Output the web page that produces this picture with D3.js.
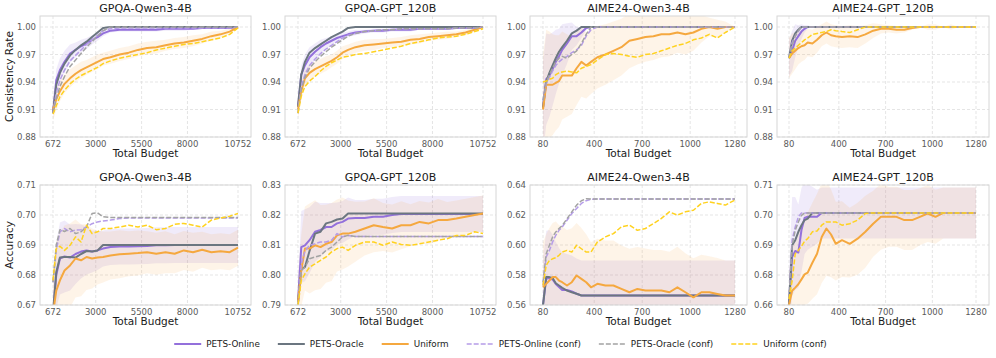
<!DOCTYPE html>
<html>
<head>
<meta charset="utf-8">
<script src="https://cdn.jsdelivr.net/npm/d3@7"></script>
<style>
  body { margin: 0; background: #fff; }
  text { font-family: "DejaVu Sans", sans-serif; }
</style>
</head>
<body>
<div id="chart"></div>
<script>
// ---- x grids and ticks ----
const gpqaBudget = [672, 850, 1050, 1300, 1600, 1900, 2200, 2500, 2800, 3100, 3400, 3800, 4300, 4800, 5300, 5800, 6300, 6800, 7300, 7800, 8300, 8800, 9300, 9800, 10300, 10752]
const aimeBudget = [80, 100, 120, 140, 160, 180, 200, 230, 260, 290, 320, 350, 380, 420, 470, 520, 570, 620, 670, 720, 770, 820, 870, 920, 970, 1020, 1070, 1120, 1170, 1220, 1280]
const gpqaTicks = [672, 3000, 5500, 8000, 10752]
const aimeTicks = [80, 400, 700, 1000, 1280]
const consTicks = [0.88, 0.91, 0.94, 0.97, 1.00]
const acc1Ticks = [0.67, 0.68, 0.69, 0.70, 0.71]
const acc2Ticks = [0.79, 0.80, 0.81, 0.82, 0.83]
const acc3Ticks = [0.56, 0.58, 0.60, 0.62, 0.64]
const acc4Ticks = [0.66, 0.68, 0.69, 0.70, 0.71]
const titles = ["GPQA-Qwen3-4B", "GPQA-GPT_120B", "AIME24-Qwen3-4B", "AIME24-GPT_120B"]
const seriesNames = ["PETS-Online", "PETS-Oracle", "Uniform", "PETS-Online (conf)", "PETS-Oracle (conf)", "Uniform (conf)"]

// ---- consistency rate, GPQA-Qwen3-4B ----
const c1Online = [0.906, 0.942, 0.953, 0.962, 0.971, 0.975, 0.979, 0.982, 0.986, 0.989, 0.993, 0.996, 0.997, 0.997, 0.997, 0.997, 0.997, 0.998, 0.998, 0.998, 0.998, 0.999, 0.999, 0.999, 0.999, 1.0]
const c1Oracle = [0.906, 0.937, 0.950, 0.960, 0.969, 0.975, 0.980, 0.984, 0.989, 0.994, 0.999, 1, 1, 1, 1, 1, 1, 1, 1, 1, 1, 1, 1, 1, 1, 1]
const c1Uniform = [0.910, 0.921, 0.930, 0.938, 0.944, 0.949, 0.953, 0.956, 0.959, 0.962, 0.965, 0.967, 0.970, 0.972, 0.975, 0.977, 0.978, 0.980, 0.982, 0.983, 0.985, 0.987, 0.990, 0.992, 0.995, 1.0]
const c1OnlineConf = [0.906, 0.928, 0.942, 0.953, 0.963, 0.969, 0.975, 0.981, 0.986, 0.991, 0.996, 0.998, 0.999, 0.999, 0.999, 0.999, 0.999, 0.999, 0.999, 0.999, 0.999, 0.999, 0.999, 0.999, 0.999, 1.0]
const c1OracleConf = [0.906, 0.922, 0.935, 0.946, 0.957, 0.964, 0.971, 0.978, 0.984, 0.990, 0.996, 1, 1, 1, 1, 1, 1, 1, 1, 1, 1, 1, 1, 1, 1, 1]
const c1UniformConf = [0.905, 0.914, 0.924, 0.931, 0.938, 0.943, 0.947, 0.950, 0.953, 0.956, 0.960, 0.963, 0.966, 0.968, 0.970, 0.972, 0.975, 0.977, 0.979, 0.981, 0.982, 0.984, 0.986, 0.988, 0.992, 0.999]
const c1OnlineSd = [0.004, 0.012, 0.013, 0.012, 0.010, 0.008, 0.007, 0.006, 0.005, 0.004, 0.003, 0.002, 0.002, 0.002, 0.002, 0.002, 0.002, 0.002, 0.002, 0.002, 0.001, 0.001, 0.001, 0.001, 0.001, 0]
const c1UniformSd = [0.012, 0.012, 0.011, 0.010, 0.010, 0.009, 0.009, 0.008, 0.008, 0.008, 0.007, 0.007, 0.007, 0.007, 0.007, 0.007, 0.007, 0.006, 0.006, 0.006, 0.006, 0.005, 0.005, 0.004, 0.003, 0.001]

// ---- consistency rate, GPQA-GPT_120B ----
const c2Online = [0.913, 0.948, 0.958, 0.967, 0.973, 0.978, 0.982, 0.985, 0.988, 0.990, 0.992, 0.994, 0.995, 0.996, 0.996, 0.997, 0.997, 0.997, 0.998, 0.998, 0.998, 0.998, 0.999, 0.999, 0.999, 1.0]
const c2Oracle = [0.913, 0.948, 0.962, 0.972, 0.977, 0.981, 0.985, 0.989, 0.992, 0.995, 0.999, 1, 1, 1, 1, 1, 1, 1, 1, 1, 1, 1, 1, 1, 1, 1]
const c2Uniform = [0.910, 0.930, 0.944, 0.950, 0.954, 0.957, 0.960, 0.963, 0.967, 0.972, 0.975, 0.978, 0.980, 0.981, 0.982, 0.983, 0.984, 0.986, 0.987, 0.989, 0.990, 0.991, 0.992, 0.994, 0.997, 1.0]
const c2OnlineConf = [0.906, 0.935, 0.948, 0.958, 0.965, 0.971, 0.976, 0.980, 0.984, 0.988, 0.991, 0.993, 0.995, 0.996, 0.997, 0.997, 0.998, 0.998, 0.998, 0.998, 0.998, 0.998, 0.999, 0.999, 0.999, 1.0]
const c2OracleConf = [0.906, 0.932, 0.945, 0.955, 0.962, 0.968, 0.973, 0.978, 0.982, 0.986, 0.990, 0.993, 0.995, 0.996, 0.997, 0.997, 0.998, 0.998, 0.998, 0.998, 0.998, 0.998, 0.999, 0.999, 0.999, 1.0]
const c2UniformConf = [0.906, 0.925, 0.935, 0.941, 0.946, 0.952, 0.957, 0.961, 0.964, 0.967, 0.968, 0.970, 0.971, 0.973, 0.975, 0.977, 0.979, 0.982, 0.984, 0.986, 0.988, 0.989, 0.990, 0.992, 0.995, 0.998]
const c2OnlineSd = [0.004, 0.010, 0.012, 0.011, 0.009, 0.008, 0.006, 0.005, 0.004, 0.004, 0.003, 0.003, 0.002, 0.002, 0.002, 0.002, 0.002, 0.002, 0.001, 0.001, 0.001, 0.001, 0.001, 0.001, 0.001, 0]
const c2UniformSd = [0.010, 0.010, 0.009, 0.009, 0.008, 0.008, 0.008, 0.007, 0.007, 0.007, 0.006, 0.006, 0.006, 0.006, 0.005, 0.005, 0.005, 0.005, 0.005, 0.004, 0.004, 0.004, 0.003, 0.003, 0.002, 0.001]

// ---- consistency rate, AIME24-Qwen3-4B ----
const c3Online = [0.912, 0.943, 0.947, 0.954, 0.962, 0.968, 0.975, 0.982, 0.990, 0.990, 0.994, 0.999, 1, 1, 1, 1, 1, 1, 1, 1, 1, 1, 1, 1, 1, 1, 1, 1, 1, 1, 1]
const c3Oracle = [0.912, 0.940, 0.950, 0.958, 0.966, 0.973, 0.978, 0.985, 0.993, 0.996, 1, 1, 1, 1, 1, 1, 1, 1, 1, 1, 1, 1, 1, 1, 1, 1, 1, 1, 1, 1, 1]
const c3Uniform = [0.910, 0.937, 0.937, 0.937, 0.939, 0.941, 0.947, 0.947, 0.947, 0.955, 0.962, 0.958, 0.962, 0.967, 0.970, 0.974, 0.978, 0.985, 0.987, 0.989, 0.990, 0.992, 0.992, 0.994, 0.992, 0.994, 0.998, 1.0, 0.998, 1.0, 1.0]
const c3OnlineConf = [0.920, 0.938, 0.945, 0.952, 0.958, 0.962, 0.965, 0.968, 0.972, 0.975, 0.980, 0.990, 0.997, 1, 1, 1, 1, 1, 1, 1, 1, 1, 1, 1, 1, 1, 1, 1, 1, 1, 1]
const c3OracleConf = [0.920, 0.940, 0.948, 0.955, 0.962, 0.966, 0.968, 0.966, 0.970, 0.974, 0.982, 0.992, 1, 1, 1, 1, 1, 1, 1, 1, 1, 1, 1, 1, 1, 1, 1, 1, 1, 1, 1]
const c3UniformConf = [0.940, 0.941, 0.943, 0.944, 0.948, 0.950, 0.951, 0.952, 0.951, 0.950, 0.955, 0.957, 0.959, 0.964, 0.970, 0.971, 0.970, 0.968, 0.967, 0.970, 0.971, 0.974, 0.977, 0.980, 0.982, 0.986, 0.988, 0.992, 0.988, 0.994, 1.0]
const c3OnlineSd = [0.050, 0.050, 0.045, 0.040, 0.035, 0.030, 0.028, 0.022, 0.015, 0.010, 0.006, 0.002, 0, 0, 0, 0, 0, 0, 0, 0, 0, 0, 0, 0, 0, 0, 0, 0, 0, 0, 0]
const c3UniformSd = [0.060, 0.060, 0.058, 0.055, 0.052, 0.050, 0.048, 0.045, 0.042, 0.040, 0.038, 0.036, 0.035, 0.034, 0.033, 0.032, 0.031, 0.030, 0.028, 0.027, 0.026, 0.025, 0.024, 0.022, 0.022, 0.020, 0.015, 0.010, 0.010, 0.006, 0]

// ---- consistency rate, AIME24-GPT_120B ----
const c4Online = [0.966, 0.974, 0.985, 0.990, 0.995, 0.998, 1, 1, 1, 1, 1, 1, 1, 1, 1, 1, 1, 1, 1, 1, 1, 1, 1, 1, 1, 1, 1, 1, 1, 1, 1]
const c4Oracle = [0.966, 0.985, 0.993, 0.997, 1, 1, 1, 1, 1, 1, 1, 1, 1, 1, 1, 1, 1, 1, 1, 1, 1, 1, 1, 1, 1, 1, 1, 1, 1, 1, 1]
const c4Uniform = [0.966, 0.971, 0.974, 0.977, 0.979, 0.980, 0.983, 0.982, 0.986, 0.991, 0.994, 0.991, 0.990, 0.989, 0.990, 0.989, 0.992, 0.996, 0.998, 0.998, 0.997, 0.997, 0.999, 1, 1, 1, 1, 1, 1, 1, 1]
const c4OnlineConf = [0.966, 0.983, 0.990, 0.995, 1, 1, 1, 1, 1, 1, 1, 1, 1, 1, 1, 1, 1, 1, 1, 1, 1, 1, 1, 1, 1, 1, 1, 1, 1, 1, 1]
const c4OracleConf = [0.966, 0.980, 0.990, 0.996, 1, 1, 1, 1, 1, 1, 1, 1, 1, 1, 1, 1, 1, 1, 1, 1, 1, 1, 1, 1, 1, 1, 1, 1, 1, 1, 1]
const c4UniformConf = [0.966, 0.974, 0.977, 0.980, 0.983, 0.986, 0.988, 0.992, 0.993, 0.994, 0.995, 0.997, 0.996, 0.995, 0.994, 0.997, 1, 1, 1, 1, 1, 1, 1, 1, 1, 1, 1, 1, 1, 1, 1]
const c4OnlineSd = [0.020, 0.022, 0.018, 0.012, 0.008, 0.004, 0.002, 0, 0, 0, 0, 0, 0, 0, 0, 0, 0, 0, 0, 0, 0, 0, 0, 0, 0, 0, 0, 0, 0, 0, 0]
const c4UniformSd = [0.022, 0.022, 0.020, 0.018, 0.017, 0.016, 0.015, 0.015, 0.014, 0.012, 0.012, 0.012, 0.012, 0.012, 0.012, 0.012, 0.010, 0.008, 0.005, 0.004, 0.004, 0.003, 0.002, 0, 0.003, 0.003, 0, 0.003, 0, 0, 0]

// ---- accuracy, GPQA-Qwen3-4B ----
const a1Online = [0.667, 0.680, 0.6855, 0.6862, 0.6858, 0.687, 0.6878, 0.6882, 0.6878, 0.6882, 0.6888, 0.6893, 0.6895, 0.6895, 0.6896, 0.6897, 0.6899, 0.6899, 0.690, 0.690, 0.690, 0.690, 0.690, 0.690, 0.690, 0.690]
const a1Oracle = [0.667, 0.681, 0.6858, 0.686, 0.686, 0.6858, 0.687, 0.688, 0.6878, 0.6882, 0.690, 0.690, 0.690, 0.690, 0.690, 0.690, 0.690, 0.690, 0.690, 0.690, 0.690, 0.690, 0.690, 0.690, 0.690, 0.690]
const a1Uniform = [0.667, 0.6748, 0.6782, 0.6815, 0.6832, 0.6855, 0.6849, 0.686, 0.6855, 0.6858, 0.686, 0.6865, 0.6869, 0.6871, 0.6873, 0.6876, 0.6871, 0.6876, 0.6871, 0.6882, 0.6876, 0.6884, 0.6876, 0.6879, 0.6876, 0.6891]
const a1OnlineConf = [0.6776, 0.6882, 0.6944, 0.6955, 0.6944, 0.695, 0.6951, 0.696, 0.6971, 0.6977, 0.698, 0.6983, 0.6988, 0.699, 0.699, 0.699, 0.699, 0.699, 0.699, 0.699, 0.699, 0.699, 0.699, 0.699, 0.699, 0.699]
const a1OracleConf = [0.6776, 0.690, 0.6951, 0.6945, 0.6955, 0.6938, 0.6944, 0.696, 0.7005, 0.7007, 0.6994, 0.6992, 0.6992, 0.6992, 0.6992, 0.6992, 0.6992, 0.6992, 0.6992, 0.6992, 0.6992, 0.6992, 0.6992, 0.6992, 0.6992, 0.6992]
const a1UniformConf = [0.6782, 0.6888, 0.6896, 0.6882, 0.6899, 0.6927, 0.691, 0.6966, 0.6938, 0.6944, 0.6955, 0.6955, 0.696, 0.6966, 0.696, 0.6966, 0.6951, 0.6955, 0.6969, 0.6972, 0.6966, 0.696, 0.6983, 0.699, 0.6996, 0.7005]
const a1OnlineSd = [0.008, 0.011, 0.012, 0.012, 0.011, 0.010, 0.009, 0.008, 0.007, 0.0065, 0.006, 0.006, 0.006, 0.006, 0.006, 0.006, 0.006, 0.006, 0.006, 0.006, 0.006, 0.006, 0.006, 0.006, 0.006, 0.006]
const a1UniformSd = [0.014, 0.016, 0.016, 0.015, 0.014, 0.013, 0.012, 0.011, 0.010, 0.009, 0.0085, 0.008, 0.008, 0.0075, 0.0075, 0.007, 0.007, 0.007, 0.0065, 0.0065, 0.0065, 0.006, 0.006, 0.006, 0.006, 0.006]

// ---- accuracy, GPQA-GPT_120B ----
const a2Online = [0.791, 0.8093, 0.8099, 0.8116, 0.8144, 0.815, 0.816, 0.816, 0.8172, 0.8177, 0.8188, 0.819, 0.819, 0.8194, 0.8194, 0.820, 0.8203, 0.8203, 0.8203, 0.8203, 0.8203, 0.8203, 0.8203, 0.8203, 0.8203, 0.8203]
const a2Oracle = [0.791, 0.802, 0.8026, 0.808, 0.8138, 0.8144, 0.8172, 0.8177, 0.8185, 0.8188, 0.8205, 0.8205, 0.8205, 0.8205, 0.8205, 0.8205, 0.8205, 0.8205, 0.8205, 0.8205, 0.8205, 0.8205, 0.8205, 0.8205, 0.8205, 0.8205]
const a2Uniform = [0.791, 0.8015, 0.8088, 0.8088, 0.8099, 0.8093, 0.8104, 0.811, 0.8132, 0.8138, 0.8138, 0.8144, 0.8155, 0.8166, 0.816, 0.8155, 0.8166, 0.8166, 0.8177, 0.8172, 0.8183, 0.8183, 0.8188, 0.8194, 0.820, 0.8205]
const a2OnlineConf = [0.790, 0.8037, 0.808, 0.8099, 0.8104, 0.811, 0.811, 0.8116, 0.8138, 0.8127, 0.8132, 0.8128, 0.8128, 0.8128, 0.8128, 0.8128, 0.8128, 0.8128, 0.8128, 0.8128, 0.8128, 0.8128, 0.8128, 0.8128, 0.8128, 0.8128]
const a2OracleConf = [0.790, 0.8015, 0.8026, 0.8054, 0.806, 0.8065, 0.8082, 0.8093, 0.811, 0.8127, 0.8132, 0.8128, 0.8128, 0.8128, 0.8128, 0.8128, 0.8128, 0.8128, 0.8128, 0.8128, 0.8128, 0.8128, 0.8128, 0.8128, 0.8128, 0.8128]
const a2UniformConf = [0.790, 0.7982, 0.8004, 0.8026, 0.8037, 0.8049, 0.806, 0.8077, 0.8088, 0.8093, 0.8082, 0.8099, 0.811, 0.811, 0.8099, 0.811, 0.8102, 0.8099, 0.8104, 0.811, 0.8116, 0.8121, 0.8132, 0.8132, 0.8144, 0.8138]
const a2OnlineSd = [0.006, 0.012, 0.012, 0.011, 0.010, 0.009, 0.008, 0.008, 0.007, 0.007, 0.007, 0.006, 0.006, 0.006, 0.006, 0.006, 0.006, 0.006, 0.006, 0.006, 0.006, 0.006, 0.006, 0.006, 0.006, 0.006]
const a2UniformSd = [0.008, 0.012, 0.014, 0.015, 0.015, 0.014, 0.013, 0.013, 0.012, 0.012, 0.011, 0.010, 0.009, 0.009, 0.008, 0.008, 0.008, 0.007, 0.007, 0.007, 0.007, 0.006, 0.006, 0.006, 0.006, 0.006]

// ---- accuracy, AIME24-Qwen3-4B ----
const a3Online = [0.560, 0.5775, 0.578, 0.577, 0.574, 0.572, 0.570, 0.570, 0.569, 0.5675, 0.5663, 0.5663, 0.5663, 0.5663, 0.5663, 0.5663, 0.5663, 0.5663, 0.5663, 0.5663, 0.5663, 0.5663, 0.5663, 0.5663, 0.5663, 0.5663, 0.5663, 0.5663, 0.5663, 0.5663, 0.5663]
const a3Oracle = [0.560, 0.5786, 0.5786, 0.578, 0.5745, 0.573, 0.5715, 0.5696, 0.5685, 0.5675, 0.5663, 0.5663, 0.5663, 0.5663, 0.5663, 0.5663, 0.5663, 0.5663, 0.5663, 0.5663, 0.5663, 0.5663, 0.5663, 0.5663, 0.5663, 0.5663, 0.5663, 0.5663, 0.5663, 0.5663, 0.5663]
const a3Uniform = [0.5718, 0.5741, 0.5763, 0.5786, 0.5786, 0.5763, 0.5752, 0.573, 0.5752, 0.5797, 0.5774, 0.5752, 0.5718, 0.5741, 0.573, 0.573, 0.5707, 0.5685, 0.5707, 0.5696, 0.5696, 0.5696, 0.5685, 0.5718, 0.5685, 0.5651, 0.5685, 0.5685, 0.5674, 0.5663, 0.5663]
const a3OnlineConf = [0.573, 0.592, 0.5964, 0.602, 0.6065, 0.6098, 0.612, 0.6165, 0.621, 0.6244, 0.6277, 0.6295, 0.6304, 0.6306, 0.6306, 0.6306, 0.6306, 0.6306, 0.6306, 0.6306, 0.6306, 0.6306, 0.6306, 0.6306, 0.6306, 0.6306, 0.6306, 0.6306, 0.6306, 0.6306, 0.6306]
const a3OracleConf = [0.5752, 0.5942, 0.5998, 0.6054, 0.6087, 0.611, 0.613, 0.6175, 0.6221, 0.6266, 0.6295, 0.6308, 0.6306, 0.6306, 0.6306, 0.6306, 0.6306, 0.6306, 0.6306, 0.6306, 0.6306, 0.6306, 0.6306, 0.6306, 0.6306, 0.6306, 0.6306, 0.6306, 0.6306, 0.6306, 0.6306]
const a3UniformConf = [0.573, 0.5864, 0.5897, 0.5908, 0.5915, 0.5931, 0.5953, 0.5964, 0.5953, 0.5998, 0.5975, 0.5953, 0.5953, 0.602, 0.6054, 0.6076, 0.6121, 0.6132, 0.6098, 0.611, 0.6143, 0.6177, 0.6221, 0.6199, 0.6221, 0.6232, 0.6277, 0.6288, 0.6277, 0.6266, 0.630]
const a3OnlineSd = [0.030, 0.032, 0.032, 0.030, 0.028, 0.026, 0.025, 0.024, 0.024, 0.0235, 0.0234, 0.0234, 0.0234, 0.0234, 0.0234, 0.0234, 0.0234, 0.0234, 0.0234, 0.0234, 0.0234, 0.0234, 0.0234, 0.0234, 0.0234, 0.0234, 0.0234, 0.0234, 0.0234, 0.0234, 0.0234]
const a3UniformSd = [0.030, 0.033, 0.035, 0.036, 0.037, 0.037, 0.037, 0.037, 0.036, 0.035, 0.034, 0.032, 0.030, 0.030, 0.030, 0.030, 0.029, 0.029, 0.028, 0.028, 0.027, 0.027, 0.027, 0.027, 0.026, 0.026, 0.025, 0.024, 0.024, 0.0234, 0.0234]

// ---- accuracy, AIME24-GPT_120B ----
const a4Online = [0.660, 0.686, 0.688, 0.6875, 0.695, 0.699, 0.6994, 0.6994, 0.6994, 0.7007, 0.7007, 0.7007, 0.7007, 0.7007, 0.7007, 0.7007, 0.7007, 0.7007, 0.7007, 0.7007, 0.7007, 0.7007, 0.7007, 0.7007, 0.7007, 0.7007, 0.7007, 0.7007, 0.7007, 0.7007, 0.7007]
const a4Oracle = [0.660, 0.6899, 0.6916, 0.6944, 0.6966, 0.6983, 0.6988, 0.7007, 0.7007, 0.7007, 0.7007, 0.7007, 0.7007, 0.7007, 0.7007, 0.7007, 0.7007, 0.7007, 0.7007, 0.7007, 0.7007, 0.7007, 0.7007, 0.7007, 0.7007, 0.7007, 0.7007, 0.7007, 0.7007, 0.7007, 0.7007]
const a4Uniform = [0.660, 0.6695, 0.6716, 0.6738, 0.6771, 0.6802, 0.6808, 0.6841, 0.6871, 0.6927, 0.6955, 0.6935, 0.6904, 0.6916, 0.6904, 0.6921, 0.6944, 0.6971, 0.6994, 0.6994, 0.6994, 0.6983, 0.6983, 0.6994, 0.7005, 0.6994, 0.7007, 0.7007, 0.7007, 0.7007, 0.7007]
const a4OnlineConf = [0.664, 0.6916, 0.696, 0.6994, 0.7007, 0.7007, 0.7007, 0.7007, 0.7007, 0.7007, 0.7007, 0.7007, 0.7007, 0.7007, 0.7007, 0.7007, 0.7007, 0.7007, 0.7007, 0.7007, 0.7007, 0.7007, 0.7007, 0.7007, 0.7007, 0.7007, 0.7007, 0.7007, 0.7007, 0.7007, 0.7007]
const a4OracleConf = [0.664, 0.6899, 0.6949, 0.6977, 0.6999, 0.7007, 0.7007, 0.7007, 0.7007, 0.7007, 0.7007, 0.7007, 0.7007, 0.7007, 0.7007, 0.7007, 0.7007, 0.7007, 0.7007, 0.7007, 0.7007, 0.7007, 0.7007, 0.7007, 0.7007, 0.7007, 0.7007, 0.7007, 0.7007, 0.7007, 0.7007]
const a4UniformConf = [0.664, 0.676, 0.6871, 0.6882, 0.6896, 0.6913, 0.6921, 0.6944, 0.6947, 0.6966, 0.6977, 0.6977, 0.6977, 0.6966, 0.6971, 0.6983, 0.7005, 0.7007, 0.7007, 0.7007, 0.7007, 0.7007, 0.7007, 0.7007, 0.7007, 0.7007, 0.7007, 0.7007, 0.7007, 0.7007, 0.7007]
const a4OnlineSd = [0.020, 0.020, 0.018, 0.016, 0.014, 0.012, 0.011, 0.010, 0.009, 0.0085, 0.0085, 0.0085, 0.0085, 0.0085, 0.0085, 0.0085, 0.0085, 0.0085, 0.0085, 0.0085, 0.0085, 0.0085, 0.0085, 0.0085, 0.0085, 0.0085, 0.0085, 0.0085, 0.0085, 0.0085, 0.0085]
const a4UniformSd = [0.020, 0.020, 0.020, 0.020, 0.020, 0.020, 0.020, 0.020, 0.020, 0.018, 0.016, 0.015, 0.014, 0.013, 0.012, 0.012, 0.012, 0.011, 0.011, 0.010, 0.010, 0.010, 0.010, 0.0095, 0.0095, 0.009, 0.0085, 0.0085, 0.0085, 0.0085, 0.0085]

// ---- styles ----
const lineColors = ["#9370db", "#6b7680", "#f5a83f", "#b59ce8", "#a3a3a3", "#ffd21f"]
const lineDash = [null, null, null, "5,2", "5,2", "5,2"]
const lineWidth = [2, 2, 2, 1.5, 1.5, 1.5]

// panel layout (pixels)
const cols = [
  { left: 40, right: 251, x0: 53, x1: 238 },
  { left: 285, right: 496, x0: 298, x1: 483 },
  { left: 530, right: 747, x0: 543, x1: 735 },
  { left: 777, right: 989, x0: 789, x1: 976 }
]
const rows = [
  { top: 16, bottom: 137, label: "Consistency Rate" },
  { top: 185, bottom: 305, label: "Accuracy" }
]

const panels = [
  { row: 0, col: 0, budget: gpqaBudget, xTicks: gpqaTicks, yDomain: [0.88, 1.012], yTicks: consTicks,
    lines: [c1Online, c1Oracle, c1Uniform, c1OnlineConf, c1OracleConf, c1UniformConf], sd: [c1OnlineSd, c1UniformSd] },
  { row: 0, col: 1, budget: gpqaBudget, xTicks: gpqaTicks, yDomain: [0.88, 1.012], yTicks: consTicks,
    lines: [c2Online, c2Oracle, c2Uniform, c2OnlineConf, c2OracleConf, c2UniformConf], sd: [c2OnlineSd, c2UniformSd] },
  { row: 0, col: 2, budget: aimeBudget, xTicks: aimeTicks, yDomain: [0.88, 1.012], yTicks: consTicks,
    lines: [c3Online, c3Oracle, c3Uniform, c3OnlineConf, c3OracleConf, c3UniformConf], sd: [c3OnlineSd, c3UniformSd] },
  { row: 0, col: 3, budget: aimeBudget, xTicks: aimeTicks, yDomain: [0.88, 1.012], yTicks: consTicks,
    lines: [c4Online, c4Oracle, c4Uniform, c4OnlineConf, c4OracleConf, c4UniformConf], sd: [c4OnlineSd, c4UniformSd] },
  { row: 1, col: 0, budget: gpqaBudget, xTicks: gpqaTicks, yDomain: acc1Ticks, yTicks: acc1Ticks,
    lines: [a1Online, a1Oracle, a1Uniform, a1OnlineConf, a1OracleConf, a1UniformConf], sd: [a1OnlineSd, a1UniformSd] },
  { row: 1, col: 1, budget: gpqaBudget, xTicks: gpqaTicks, yDomain: acc2Ticks, yTicks: acc2Ticks,
    lines: [a2Online, a2Oracle, a2Uniform, a2OnlineConf, a2OracleConf, a2UniformConf], sd: [a2OnlineSd, a2UniformSd] },
  { row: 1, col: 2, budget: aimeBudget, xTicks: aimeTicks, yDomain: acc3Ticks, yTicks: acc3Ticks,
    lines: [a3Online, a3Oracle, a3Uniform, a3OnlineConf, a3OracleConf, a3UniformConf], sd: [a3OnlineSd, a3UniformSd] },
  // this panel's y axis is drawn with unevenly spaced labels, so use a piecewise scale
  { row: 1, col: 3, budget: aimeBudget, xTicks: aimeTicks, yDomain: acc4Ticks, yTicks: acc4Ticks,
    lines: [a4Online, a4Oracle, a4Uniform, a4OnlineConf, a4OracleConf, a4UniformConf], sd: [a4OnlineSd, a4UniformSd] }
]

const svg = d3.select("#chart").append("svg")
  .attr("width", 996)
  .attr("height", 358)

panels.forEach((p, k) => {
  const c = cols[p.col]
  const r = rows[p.row]
  const title = titles[p.col]

  const x = d3.scaleLinear()
    .domain(d3.extent(p.budget))
    .range([c.x0, c.x1])

  // evenly spaced range for every domain stop (two stops = plain linear)
  const n = p.yDomain.length
  const y = d3.scaleLinear()
    .domain(p.yDomain)
    .range(p.yDomain.map((d, i) => r.bottom - i * (r.bottom - r.top) / (n - 1)))
  if (n === 2) y.range([r.bottom, r.top])

  const g = svg.append("g")

  g.append("clipPath").attr("id", "clip" + k)
    .append("rect")
    .attr("x", c.left).attr("y", r.top)
    .attr("width", c.right - c.left).attr("height", r.bottom - r.top)

  // grid
  g.append("g")
    .selectAll("line.gx")
    .data(p.xTicks)
    .join("line")
    .attr("x1", d => x(d)).attr("x2", d => x(d))
    .attr("y1", r.top).attr("y2", r.bottom)
    .attr("stroke", "#dedede").attr("stroke-width", 0.8)
    .attr("stroke-dasharray", "3,2")
  g.append("g")
    .selectAll("line.gy")
    .data(p.yTicks)
    .join("line")
    .attr("x1", c.left).attr("x2", c.right)
    .attr("y1", d => y(d)).attr("y2", d => y(d))
    .attr("stroke", "#dedede").attr("stroke-width", 0.8)
    .attr("stroke-dasharray", "3,2")

  const plot = g.append("g").attr("clip-path", "url(#clip" + k + ")")

  // std bands: PETS-Online and Uniform
  const bandColors = [lineColors[0], lineColors[2]]
  const bandBase = [p.lines[0], p.lines[2]]
  p.sd.forEach((sd, j) => {
    const area = d3.area()
      .x((d, i) => x(p.budget[i]))
      .y0((d, i) => y(bandBase[j][i] - sd[i]))
      .y1((d, i) => y(bandBase[j][i] + sd[i]))
    plot.append("path")
      .datum(sd)
      .attr("d", area)
      .attr("fill", bandColors[j])
      .attr("fill-opacity", j === 0 ? 0.14 : 0.12)
  })

  const line = d3.line()
    .x((d, i) => x(p.budget[i]))
    .y(d => y(d))

  p.lines.forEach((vals, j) => {
    plot.append("path")
      .datum(vals)
      .attr("d", line)
      .attr("fill", "none")
      .attr("stroke", lineColors[j])
      .attr("stroke-width", lineWidth[j])
      .attr("stroke-dasharray", lineDash[j])
      .attr("stroke-linejoin", "round")
  })

  // frame
  g.append("rect")
    .attr("x", c.left).attr("y", r.top)
    .attr("width", c.right - c.left).attr("height", r.bottom - r.top)
    .attr("fill", "none")
    .attr("stroke", "#d6d6d6")
    .attr("stroke-width", 1)

  // tick labels
  g.append("g")
    .selectAll("text")
    .data(p.xTicks)
    .join("text")
    .attr("x", d => x(d))
    .attr("y", r.bottom + 9.5)
    .attr("text-anchor", "middle")
    .attr("font-size", 8.5)
    .attr("fill", "#5a5a5a")
    .text(d => d)
  g.append("g")
    .selectAll("text")
    .data(p.yTicks)
    .join("text")
    .attr("x", c.left - 4)
    .attr("y", d => y(d) + 3)
    .attr("text-anchor", "end")
    .attr("font-size", 8.5)
    .attr("fill", "#5a5a5a")
    .text(d => d3.format(".2f")(d))

  // titles and axis labels
  g.append("text")
    .attr("x", (c.left + c.right) / 2)
    .attr("y", r.top - 4)
    .attr("text-anchor", "middle")
    .attr("font-size", 11)
    .attr("fill", "#1a1a1a")
    .text(title)
  g.append("text")
    .attr("x", (c.left + c.right) / 2)
    .attr("y", r.bottom + 20)
    .attr("text-anchor", "middle")
    .attr("font-size", 10.5)
    .attr("fill", "#1a1a1a")
    .text("Total Budget")
  if (p.col === 0) {
    g.append("text")
      .attr("transform", "translate(13," + ((r.top + r.bottom) / 2) + ") rotate(-90)")
      .attr("text-anchor", "middle")
      .attr("font-size", 10.5)
      .attr("fill", "#1a1a1a")
      .text(r.label)
  }
})

// legend, one row centred under the panels
const legend = svg.append("g")
const items = legend.selectAll("g")
  .data(seriesNames)
  .join("g")
items.append("line")
  .attr("x1", 0).attr("x2", 27)
  .attr("y1", 0).attr("y2", 0)
  .attr("stroke", (d, i) => lineColors[i])
  .attr("stroke-width", (d, i) => lineWidth[i])
  .attr("stroke-dasharray", (d, i) => lineDash[i])
items.append("text")
  .attr("x", 32)
  .attr("y", 3)
  .attr("font-size", 8.8)
  .attr("fill", "#1a1a1a")
  .text(d => d)

let cursor = 0
const widths = []
items.each(function () {
  const w = 32 + d3.select(this).select("text").node().getComputedTextLength()
  widths.push(w)
})
const gap = 18
const total = d3.sum(widths) + gap * (widths.length - 1)
cursor = 500.5 - total / 2
items.attr("transform", (d, i) => {
  const t = "translate(" + cursor + ",344)"
  cursor += widths[i] + gap
  return t
})
</script>
</body>
</html>
